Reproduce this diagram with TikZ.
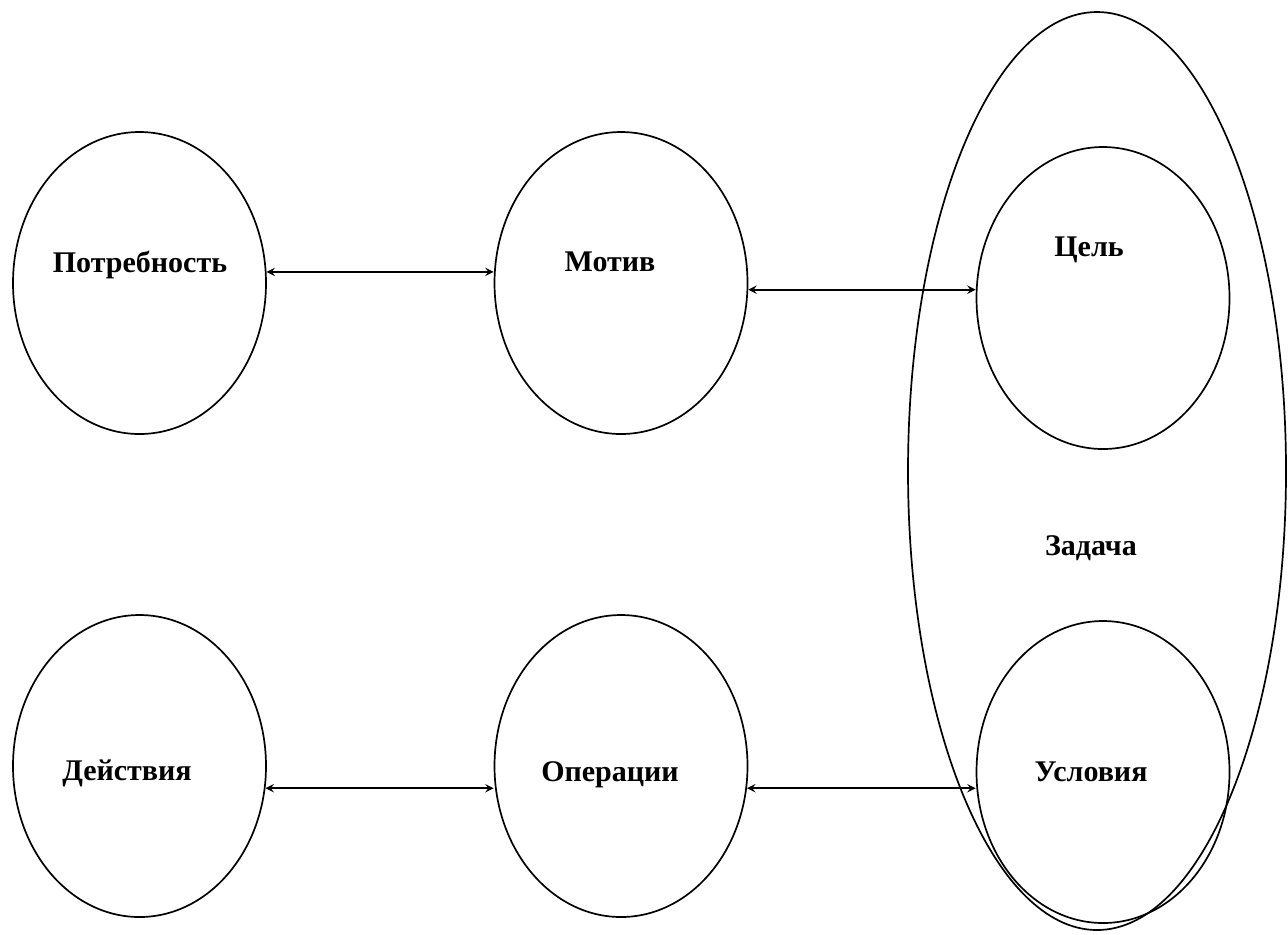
\documentclass[tikz,border=0pt]{standalone}
\usepackage{fontspec}
\setmainfont{Liberation Serif}
\usetikzlibrary{shapes.geometric}
\begin{document}
\begin{tikzpicture}[x=0.5pt,y=-0.5pt,font=\bfseries\fontsize{15}{18}\selectfont,line join=round,line cap=round,>=stealth,
	oval/.style={draw,ellipse,line width=0.85pt,inner sep=0pt,minimum width=126.5pt,minimum height=151pt},
	word/.style={anchor=base,inner sep=0pt},
	link/.style={<->,line width=0.85pt}]
	\useasboundingbox (0,0) rectangle (1288,934);
	% big task ellipse
	\node[oval,minimum width=189pt,minimum height=459pt] (zadacha) at (1097,471) {};
	% ellipses
	\node[oval] (potr) at (139.5,283) {};
	\node[oval] (motiv) at (621,283) {};
	\node[oval] (cel) at (1103,298) {};
	\node[oval] (deistv) at (139.5,766) {};
	\node[oval] (oper) at (621,766) {};
	\node[oval] (uslov) at (1103,772) {};
	% texts
	\node[word] (potr-t) at (140,272) {Потребность};
	\node[word] (motiv-t) at (610,271) {Мотив};
	\node[word] (cel-t) at (1089,256) {Цель};
	\node[word] (zadacha-t) at (1091,555) {Задача};
	\node[word] (deistv-t) at (127,780) {Действия};
	\node[word] (oper-t) at (610,781) {Операции};
	\node[word] (uslov-t) at (1091,781) {Условия};
	% links
	\draw[link] (potr.5) -- (potr.5 -| motiv.west);
	\draw[link] (motiv.-3) -- (motiv.-3 -| cel.west);
	\draw[link] (deistv.-10) -- (deistv.-10 -| oper.west);
	\draw[link] (oper.-10) -- (oper.-10 -| uslov.west);
\end{tikzpicture}
\end{document}
